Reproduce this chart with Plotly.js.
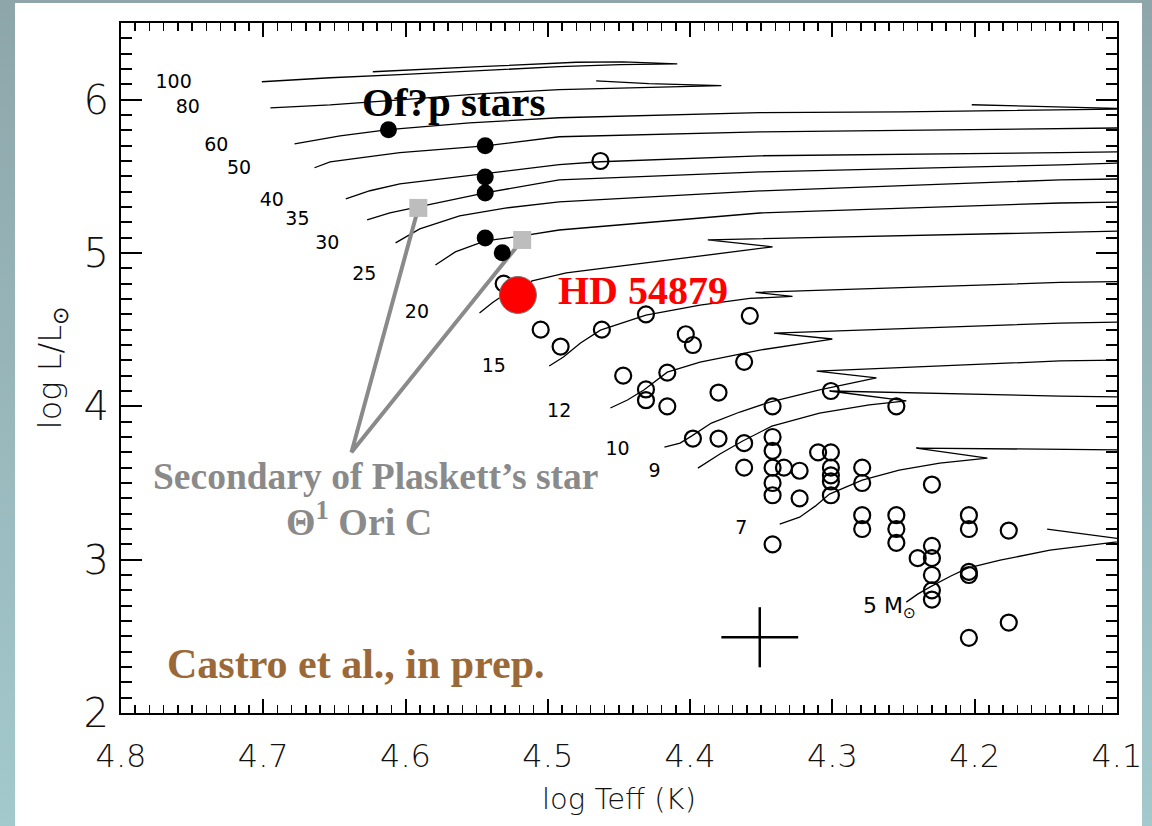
<!DOCTYPE html>
<html>
<head>
<meta charset="utf-8">
<script src="https://cdn.plot.ly/plotly-3.0.1.min.js"></script>
<style>
  html, body { margin: 0; padding: 0; width: 1152px; height: 826px; overflow: hidden;
    background: linear-gradient(to bottom, #8ea6aa, #a3c9cd); }
  #hr { position: absolute; left: 15px; top: 3px; width: 1127px; height: 823px; background: #fff; }
</style>
</head>
<body>
<div id="hr"></div>
<script>
// Evolutionary tracks (log Teff, log L/Lsun), one pair of arrays per initial mass
const logT_100 = [4.701, 4.653, 4.604, 4.548, 4.492, 4.449, 4.409, 4.447, 4.480, 4.548, 4.623];
const logL_100 = [6.117, 6.143, 6.163, 6.189, 6.215, 6.228, 6.234, 6.247, 6.244, 6.215, 6.182];
const logT_80 = [4.695, 4.653, 4.604, 4.548, 4.492, 4.435, 4.378, 4.429, 4.466];
const logL_80 = [5.947, 5.966, 5.999, 6.038, 6.065, 6.078, 6.091, 6.104, 6.123];
const logT_60 = [4.678, 4.646, 4.612, 4.555, 4.492, 4.351, 4.251, 4.100, 4.088, 4.202];
const logL_60 = [5.712, 5.764, 5.804, 5.849, 5.882, 5.915, 5.921, 5.934, 5.940, 5.967];
const logT_50 = [4.664, 4.653, 4.632, 4.604, 4.544, 4.492, 4.351, 4.140, 4.091];
const logL_50 = [5.556, 5.595, 5.621, 5.654, 5.699, 5.758, 5.790, 5.810, 5.816];
const logT_40 = [4.642, 4.625, 4.604, 4.544, 4.492, 4.463, 4.351, 4.140, 4.091];
const logL_40 = [5.353, 5.406, 5.451, 5.517, 5.576, 5.595, 5.634, 5.654, 5.660];
const logT_35 = [4.627, 4.611, 4.591, 4.544, 4.492, 4.351, 4.140, 4.091];
const logL_35 = [5.216, 5.262, 5.301, 5.392, 5.477, 5.529, 5.575, 5.588];
const logT_30 = [4.607, 4.590, 4.562, 4.530, 4.492, 4.351, 4.140, 4.091];
const logL_30 = [5.066, 5.157, 5.242, 5.293, 5.333, 5.405, 5.477, 5.484];
const logT_25 = [4.579, 4.565, 4.544, 4.518, 4.492, 4.351, 4.140, 4.091];
const logL_25 = [4.922, 5.007, 5.079, 5.111, 5.150, 5.261, 5.326, 5.333];
const logT_20 = [4.548, 4.539, 4.530, 4.511, 4.487, 4.454, 4.393, 4.342, 4.3875, 4.323, 4.140, 4.091];
const logL_20 = [4.609, 4.675, 4.733, 4.818, 4.870, 4.909, 4.981, 5.040, 5.086, 5.099, 5.138, 5.144];
const logT_15 = [4.499, 4.489, 4.477, 4.463, 4.431, 4.393, 4.358, 4.328, 4.354, 4.140, 4.091];
const logL_15 = [4.263, 4.322, 4.413, 4.497, 4.595, 4.660, 4.704, 4.717, 4.743, 4.808, 4.815];
const logT_12 = [4.456, 4.444, 4.4325, 4.416, 4.393, 4.351, 4.300, 4.341, 4.140, 4.091];
const logL_12 = [3.989, 4.041, 4.106, 4.223, 4.289, 4.367, 4.439, 4.478, 4.543, 4.550];
const logT_10 = [4.418, 4.407, 4.399, 4.385, 4.365, 4.344, 4.309, 4.269, 4.311, 4.140, 4.091];
const logL_10 = [3.734, 3.760, 3.806, 3.891, 3.963, 4.028, 4.107, 4.185, 4.230, 4.296, 4.302];
const logT_9 = [4.3945, 4.379, 4.363, 4.3425, 4.309, 4.274, 4.248, 4.302, 4.140, 4.091];
const logL_9 = [3.597, 3.689, 3.774, 3.871, 3.956, 4.009, 4.035, 4.100, 4.067, 4.061];
const logT_7 = [4.337, 4.323, 4.312, 4.302, 4.279, 4.253, 4.2245, 4.191, 4.241, 4.140, 4.091];
const logL_7 = [3.232, 3.277, 3.349, 3.428, 3.519, 3.584, 3.630, 3.662, 3.728, 3.721, 3.715];
const logT_5 = [4.248, 4.240, 4.2315, 4.217, 4.205, 4.182, 4.147, 4.100, 4.090, 4.149];
const logL_5 = [2.723, 2.775, 2.821, 2.892, 2.945, 2.997, 3.062, 3.114, 3.127, 3.199];

// Track mass labels
const massText = ['100', '80', '60', '50', '40', '35', '30', '25', '20', '15', '12', '10', '9', '7'];
const massT = [4.763, 4.753, 4.733, 4.717, 4.694, 4.676, 4.655, 4.629, 4.592, 4.538, 4.492, 4.451, 4.425, 4.364];
const massL = [6.110, 5.947, 5.699, 5.543, 5.339, 5.215, 5.058, 4.855, 4.609, 4.257, 3.963, 3.715, 3.571, 3.199];

// Sample B stars (open circles)
const sampleT = [4.463, 4.531, 4.505, 4.491, 4.462, 4.431, 4.403, 4.398, 4.358, 4.447,
  4.431, 4.431, 4.416, 4.416, 4.362, 4.380, 4.342, 4.398, 4.380, 4.362,
  4.362, 4.342, 4.342, 4.342, 4.342, 4.342, 4.334, 4.323, 4.323, 4.310,
  4.301, 4.301, 4.301, 4.301, 4.301, 4.301, 4.279, 4.279, 4.255, 4.230,
  4.342, 4.279, 4.279, 4.255, 4.255, 4.255, 4.240, 4.230, 4.230, 4.230,
  4.230, 4.230, 4.204, 4.204, 4.204, 4.204, 4.204, 4.176, 4.176];
const sampleL = [5.60, 4.80, 4.50, 4.39, 4.50, 4.60, 4.47, 4.40, 4.59, 4.20,
  4.11, 4.04, 4.22, 4.00, 4.29, 4.09, 4.00, 3.79, 3.79, 3.76,
  3.60, 3.80, 3.71, 3.60, 3.50, 3.42, 3.60, 3.58, 3.40, 3.70,
  3.70, 3.60, 3.55, 3.51, 3.42, 4.10, 3.60, 3.50, 4.00, 3.49,
  3.10, 3.29, 3.20, 3.29, 3.20, 3.11, 3.01, 3.09, 3.01, 2.90,
  2.80, 2.74, 3.29, 3.20, 2.92, 2.90, 2.49, 3.19, 2.59];

// Of?p stars (filled black)
const ofpT = [4.612, 4.544, 4.544, 4.544, 4.544, 4.532];
const ofpL = [5.804, 5.699, 5.496, 5.392, 5.098, 5.001];

// Magnetic O stars: secondary of Plaskett's star, Theta1 Ori C
const magT = [4.591, 4.518];
const magL = [5.294, 5.085];
// pointer from the caption to both stars
const pointerT = [4.591, 4.638, 4.518];
const pointerL = [5.294, 3.700, 5.085];

// HD 54879
const hdT = [4.521];
const hdL = [4.726];

// Typical error bar
const errT = [4.351], errL = [2.494];
const errDT = 0.027, errDL = 0.196;

const trackPairs = [
  [logT_100, logL_100], [logT_80, logL_80], [logT_60, logL_60], [logT_50, logL_50],
  [logT_40, logL_40], [logT_35, logL_35], [logT_30, logL_30], [logT_25, logL_25],
  [logT_20, logL_20], [logT_15, logL_15], [logT_12, logL_12], [logT_10, logL_10],
  [logT_9, logL_9], [logT_7, logL_7], [logT_5, logL_5]
];

const traces = [];
trackPairs.forEach(([t, l]) => {
  traces.push({ x: t, y: l, type: 'scatter', mode: 'lines',
    line: { color: '#000', width: 1.3 }, hoverinfo: 'skip', showlegend: false });
});

traces.push({ x: massT, y: massL, text: massText, type: 'scatter', mode: 'text',
  textfont: { family: 'DejaVu Sans', size: 19, color: '#000' }, showlegend: false });

traces.push({ x: pointerT, y: pointerL, type: 'scatter', mode: 'lines',
  line: { color: '#8a8a8a', width: 4 }, showlegend: false });

traces.push({ x: sampleT, y: sampleL, type: 'scatter', mode: 'markers',
  marker: { symbol: 'circle-open', size: 16, color: '#000', line: { width: 2.2, color: '#000' } },
  showlegend: false });

traces.push({ x: ofpT, y: ofpL, type: 'scatter', mode: 'markers',
  marker: { symbol: 'circle', size: 17, color: '#000' }, showlegend: false });

traces.push({ x: magT, y: magL, type: 'scatter', mode: 'markers',
  marker: { symbol: 'square', size: 18, color: '#bdbdbd' }, showlegend: false });

traces.push({ x: hdT, y: hdL, type: 'scatter', mode: 'markers',
  marker: { symbol: 'circle', size: 37, color: '#ff0000', line: { width: 1, color: '#777' } },
  showlegend: false });

traces.push({ x: errT, y: errL, type: 'scatter', mode: 'markers',
  marker: { size: 1, color: 'rgba(0,0,0,0)' },
  error_x: { type: 'constant', value: errDT, width: 0, thickness: 2.5, color: '#000' },
  error_y: { type: 'constant', value: errDL, width: 0, thickness: 2.5, color: '#000' },
  showlegend: false });

const serif = 'Liberation Serif, Times New Roman, serif';
const annotations = [
  { x: 4.566, y: 5.986, text: '<b>Of?p stars</b>', font: { family: serif, size: 41, color: '#000' } },
  { x: 4.433, y: 4.753, text: '<b>HD 54879</b>', font: { family: serif, size: 40, color: '#ff0000' } },
  { x: 4.621, y: 3.545, text: '<b>Secondary of Plaskett’s star</b>', font: { family: serif, size: 37.5, color: '#8a8a8a' } },
  { x: 4.633, y: 3.264, text: '<b>Θ<sup>1</sup> Ori C</b>', font: { family: serif, size: 38, color: '#8a8a8a' } },
  { x: 4.635, y: 2.318, text: '<b>Castro et al., in prep.</b>', font: { family: serif, size: 42, color: '#9b6937' } },
  { x: 4.240, y: 2.69, xanchor: 'right', text: '5 M<sub>⊙</sub>', font: { family: 'DejaVu Sans', size: 22, color: '#000' } }
].map(a => Object.assign({ xref: 'x', yref: 'y', showarrow: false }, a));

const axisFont = 'DejaVu Sans';
const layout = {
  width: 1127, height: 823,
  margin: { l: 106, r: 25, t: 20, b: 113 },
  paper_bgcolor: '#fff', plot_bgcolor: '#fff',
  showlegend: false,
  xaxis: {
    range: [4.8, 4.0999], tick0: 4.1, dtick: 0.1, tickformat: '.1f',
    ticks: 'inside', ticklen: 14, tickwidth: 2, tickcolor: '#000',
    showline: true, linewidth: 2, linecolor: '#000', mirror: 'ticks',
    showgrid: false, zeroline: false,
    tickfont: { family: axisFont, size: 32, color: '#111', weight: 200 },
    ticklabelstandoff: 14, ticklabeloverflow: 'allow',
    minor: { dtick: 0.01, ticks: 'inside', ticklen: 8, tickwidth: 1.5, tickcolor: '#000', showgrid: false },
    title: { text: 'log Teff (K)', font: { family: axisFont, size: 29, color: '#111', weight: 200 }, standoff: 14 }
  },
  yaxis: {
    range: [2, 6.5], tick0: 2, dtick: 1,
    ticks: 'inside', ticklen: 21, tickwidth: 2, tickcolor: '#000',
    showline: true, linewidth: 2, linecolor: '#000', mirror: 'ticks',
    showgrid: false, zeroline: false,
    tickfont: { family: axisFont, size: 40, color: '#111', weight: 200 },
    ticklabelstandoff: 2,
    minor: { dtick: 0.1, ticks: 'inside', ticklen: 11, tickwidth: 2, tickcolor: '#000', showgrid: false },
    title: { text: 'log L/L<sub>⊙</sub>', font: { family: axisFont, size: 32, color: '#111', weight: 200 }, standoff: 12 }
  },
  annotations: annotations
};

Plotly.newPlot('hr', traces, layout, { displayModeBar: false, staticPlot: true });
</script>
</body>
</html>
